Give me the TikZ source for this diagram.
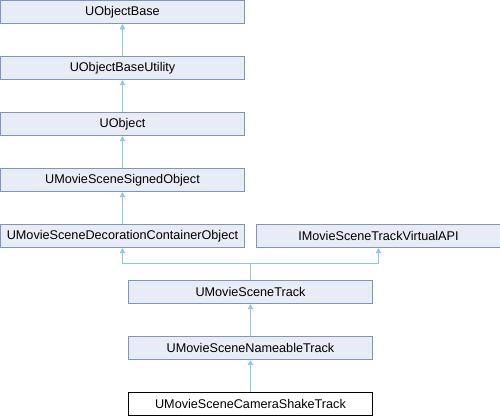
\documentclass[tikz,border=0pt]{standalone}
\usepackage{fontspec}
\setmainfont{Liberation Sans}
\usetikzlibrary{calc, positioning, arrows.meta}
\definecolor{boxfill}{RGB}{232,236,244}
\definecolor{boxline}{RGB}{124,149,199}
\definecolor{edgeblue}{RGB}{143,198,230}

\begin{document}
\begin{tikzpicture}[
    font=\fontsize{7.2}{8.6}\selectfont,
    cls/.style={
        draw=boxline, fill=boxfill, line width=0.55pt,
        minimum width=4.88cm, minimum height=0.46cm, inner sep=1pt
      },
    focus/.style={
        cls, draw=black, fill=white
      },
    inherit/.style={-{Latex[length=3pt,width=3.6pt]}, draw=edgeblue, line width=0.55pt},
    node distance=0.64cm
  ]
  \useasboundingbox (0,0) rectangle (10,-8.32);

  \node[cls] (base) at (2.45,-0.24) {UObjectBase};
  \node[cls, below=of base] (util) {UObjectBaseUtility};
  \node[cls, below=of util] (uobj) {UObject};
  \node[cls, below=of uobj] (signed) {UMovieSceneSignedObject};
  \node[cls, below=of signed] (deco) {UMovieSceneDecorationContainerObject};
  \node[cls, right=0.22cm of deco] (api) {IMovieSceneTrackVirtualAPI};

  \coordinate (mid) at ($(deco.south)!0.5!(api.south)$);
  \node[cls, below=of mid] (track) {UMovieSceneTrack};
  \node[cls, below=of track] (nameable) {UMovieSceneNameableTrack};
  \node[focus, below=of nameable] (shake) {UMovieSceneCameraShakeTrack};

  \draw[inherit] (util.north) -- (base.south);
  \draw[inherit] (uobj.north) -- (util.south);
  \draw[inherit] (signed.north) -- (uobj.south);
  \draw[inherit] (deco.north) -- (signed.south);

  % two parents meet on one bar
  \coordinate (fork) at ($(track.north)+(0,0.32)$);
  \draw[inherit] (track.north) -- (fork) -| (deco.south);
  \draw[inherit] (fork) -| (api.south);

  \draw[inherit] (nameable.north) -- (track.south);
  \draw[inherit] (shake.north) -- (nameable.south);

\end{tikzpicture}
\end{document}
